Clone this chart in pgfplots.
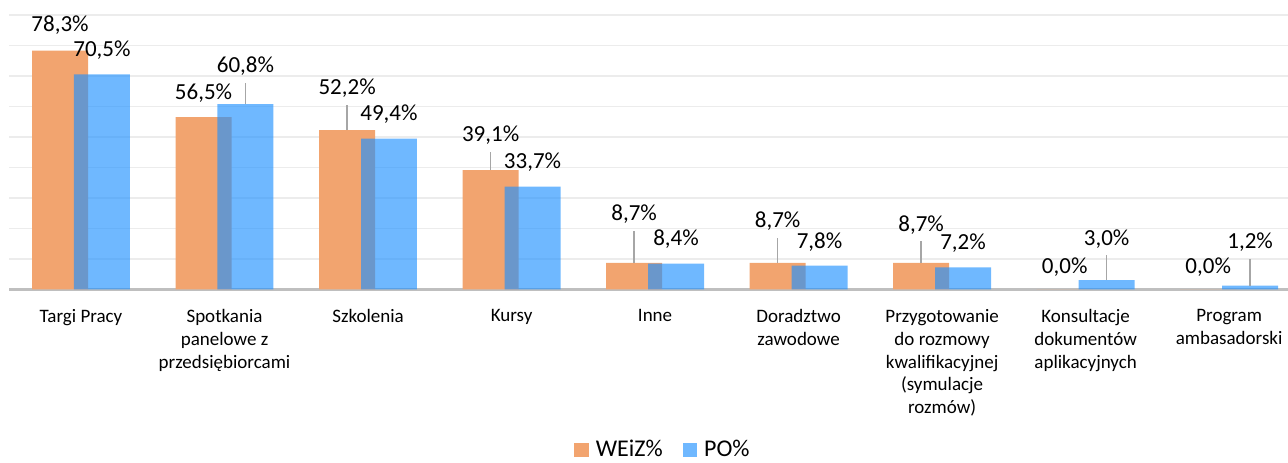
\documentclass[border=0pt]{standalone}
\usepackage{fontspec}
\setmainfont{Carlito}
\usepackage{pgfplots}
\usepackage{pgfplotstable}
\pgfplotsset{compat=1.18}
\definecolor{orz}{RGB}{242,164,111}
\definecolor{blz}{RGB}{30,144,255}
\pgfplotsset{sqlegend/.style={legend image code/.code={\fill[##1] (0bp,-3.6bp) rectangle (7.2bp,3.6bp);}}}

\pgfplotstableread{
x y
-0.146 78.3
0.854 56.5
1.854 52.2
2.854 39.1
3.854 8.7
4.854 8.7
5.854 8.7
6.854 0.0
7.854 0.0
}\weiz
\pgfplotstableread{
x y
0.146 70.5
1.146 60.8
2.146 49.4
3.146 33.7
4.146 8.4
5.146 7.8
6.146 7.2
7.146 3.0
8.146 1.2
}\po
\pgfplotstableread{
x y lab
-0.146 86.7 78,3
0.854 64.4 56,5
1.854 66.0 52,2
2.854 50.6 39,1
3.854 24.7 8,7
4.854 22.4 8,7
5.854 21.1 8,7
6.854 7.3 0,0
7.854 7.3 0,0
}\weizlab
\pgfplotstableread{
x y lab
0.146 78.5 70,5
1.146 73.3 60,8
2.146 57.5 49,4
3.146 41.8 33,7
4.146 16.5 8,4
5.146 15.5 7,8
6.146 15.2 7,2
7.146 16.5 3,0
8.146 15.5 1,2
}\polab
\pgfplotstableread{
x y e
1.854 52.2 8.3
2.854 39.1 5.9
3.854 8.7 10.4
4.854 8.7 8.1
5.854 8.7 7.1
}\weizlead
\pgfplotstableread{
x y e
1.146 60.8 6.9
7.146 3.0 8.3
8.146 1.2 8.7
}\polead

\begin{document}
\begin{tikzpicture}
\path[use as bounding box] (-4.625bp,-86.85bp) rectangle (639.375bp,144.65bp);
\begin{axis}[
  at={(0,0)}, anchor=south west,
  scale only axis, width=639.375bp, height=137.15bp,
  xmin=-0.5, xmax=8.41, ymin=0, ymax=90,
  clip=false,
  axis line style={draw=none},
  major tick length=0pt,
  ytick={10,20,...,90}, yticklabels={},
  ymajorgrids, grid style={draw=gray!15, line width=0.75bp},
  extra y ticks={0}, extra y tick labels={},
  extra y tick style={grid style={draw=gray!50, line width=1.2bp}},
  xtick={0,...,8},
  xticklabels={Targi Pracy, {Spotkania\\panelowe z\\przedsiębiorcami}, Szkolenia, Kursy, Inne, {Doradztwo\\zawodowe}, {Przygotowanie\\do rozmowy\\kwalifikacyjnej\\(symulacje\\rozmów)}, {Konsultacje\\dokumentów\\aplikacyjnych}, {Program\\ambasadorski}},
  xticklabel style={font=\fontsize{9.5bp}{11.35bp}\selectfont, align=center, anchor=north, inner sep=0pt, yshift=-10bp},
  legend columns=2,
  legend style={draw=none, fill=none, at={(0.512,-0.586)}, anchor=center,
    font=\fontsize{12bp}{14bp}\selectfont,
    /tikz/every odd column/.append style={column sep=1.5bp},
    /tikz/every even column/.append style={column sep=8bp}},
]
\addplot[ybar, sqlegend, bar width=0.39, bar shift=0, fill=orz, draw=none] table[x=x,y=y]{\weiz};
\addlegendentry{WEiZ\%}
\addplot[ybar, sqlegend, bar width=0.39, bar shift=0, fill=blz, fill opacity=0.64, draw=none] table[x=x,y=y]{\po};
\addlegendentry{PO\%}
\addplot[draw=none, forget plot, error bars/.cd, y dir=plus, y explicit, error mark=none,
  error bar style={draw=gray!70, line width=0.75bp}] table[x=x,y=y,y error plus=e]{\weizlead};
\addplot[draw=none, forget plot, error bars/.cd, y dir=plus, y explicit, error mark=none,
  error bar style={draw=gray!70, line width=0.75bp}] table[x=x,y=y,y error plus=e]{\polead};
\addplot[draw=none, forget plot, point meta=explicit symbolic,
  nodes near coords={\pgfplotspointmeta\%},
  every node near coord/.append style={anchor=center, inner sep=0pt, font=\fontsize{11.5bp}{13bp}\selectfont, text=black}]
  table[x=x,y=y,meta=lab]{\weizlab};
\addplot[draw=none, forget plot, point meta=explicit symbolic,
  nodes near coords={\pgfplotspointmeta\%},
  every node near coord/.append style={anchor=center, inner sep=0pt, font=\fontsize{11.5bp}{13bp}\selectfont, text=black}]
  table[x=x,y=y,meta=lab]{\polab};
\end{axis}
\end{tikzpicture}
\end{document}
